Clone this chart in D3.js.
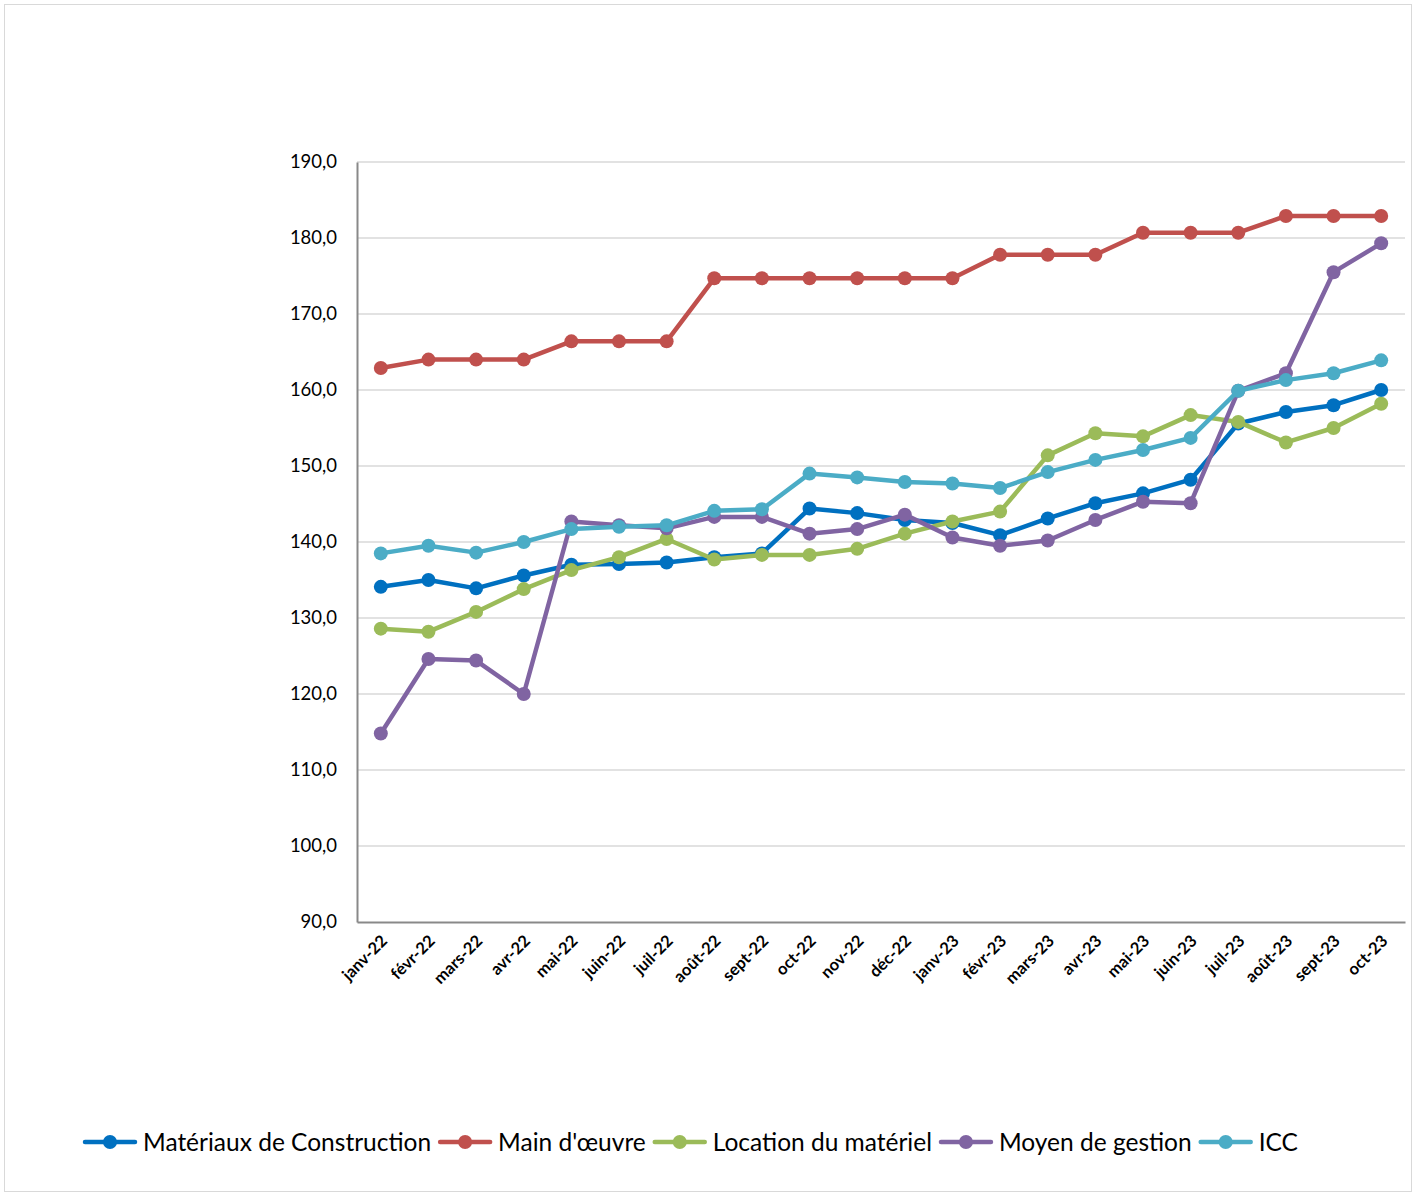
<!DOCTYPE html>
<html>
<head>
<meta charset="utf-8">
<script src="https://cdn.jsdelivr.net/npm/d3@7"></script>
<style>
  body { margin: 0; background: #fff; }
  text { font-family: Lato, "Liberation Sans", sans-serif; }
</style>
</head>
<body>
<div id="chart-area"></div>
<script>
// data
var months = ["janv-22","févr-22","mars-22","avr-22","mai-22","juin-22","juil-22","août-22","sept-22","oct-22","nov-22","déc-22",
              "janv-23","févr-23","mars-23","avr-23","mai-23","juin-23","juil-23","août-23","sept-23","oct-23"];
var materiaux = [134.1,135.0,133.9,135.6,137.0,137.1,137.3,138.0,138.5,144.4,143.8,142.9,142.5,140.9,143.1,145.1,146.4,148.2,155.6,157.1,158.0,160.0];
var mainOeuvre = [162.9,164.0,164.0,164.0,166.4,166.4,166.4,174.7,174.7,174.7,174.7,174.7,174.7,177.8,177.8,177.8,180.7,180.7,180.7,182.9,182.9,182.9];
var location_ = [128.6,128.2,130.8,133.8,136.3,138.0,140.4,137.7,138.3,138.3,139.1,141.1,142.7,144.0,151.4,154.3,153.9,156.7,155.8,153.1,155.0,158.2];
var moyen = [114.8,124.6,124.4,120.0,142.7,142.2,141.8,143.3,143.3,141.1,141.7,143.6,140.6,139.5,140.2,142.9,145.3,145.1,159.9,162.2,175.5,179.3];
var icc = [138.5,139.5,138.6,140.0,141.7,142.0,142.2,144.1,144.3,149.0,148.5,147.9,147.7,147.1,149.2,150.8,152.1,153.7,159.9,161.3,162.2,163.9];
var yTicks = [90,100,110,120,130,140,150,160,170,180,190];

var series = [
  {name: "Matériaux de Construction", values: materiaux, color: "#0070C0"},
  {name: "Main d'œuvre", values: mainOeuvre, color: "#C0504D"},
  {name: "Location du matériel", values: location_, color: "#9BBB59"},
  {name: "Moyen de gestion", values: moyen, color: "#8064A2"},
  {name: "ICC", values: icc, color: "#4BACC6"}
];

var W = 1413, H = 1193;
var margin = {top: 162, left: 357, right: 8, bottom: 271};
var width = W - margin.left - margin.right;
var height = H - margin.top - margin.bottom;

var svg = d3.select("#chart-area").append("svg")
    .attr("width", W)
    .attr("height", H);

// outer frame
svg.append("rect")
    .attr("x", 4.5).attr("y", 4.5)
    .attr("width", W - 6).attr("height", H - 6)
    .attr("fill", "none")
    .attr("stroke", "#d9d9d9");

var g = svg.append("g")
    .attr("transform", "translate(" + margin.left + ", " + margin.top + ")");

var x = d3.scalePoint().domain(months).range([0, width]).padding(0.5);
var y = d3.scaleLinear().domain([90, 190]).range([height, 0]);

// gridlines
g.selectAll(".grid").data(yTicks.slice(1)).enter().append("line")
    .attr("class", "grid")
    .attr("x1", 0).attr("x2", width)
    .attr("y1", (d) => y(d)).attr("y2", (d) => y(d))
    .attr("stroke", "#d9d9d9")
    .attr("stroke-width", 1.5);

// y axis
var yAxisCall = d3.axisLeft(y).tickValues(yTicks).tickSize(0).tickPadding(20)
    .tickFormat((d) => d3.format(".1f")(d).replace(".", ","));
var yAxisGroup = g.append("g").call(yAxisCall);
yAxisGroup.select(".domain").attr("stroke", "#898989").attr("stroke-width", 2);
yAxisGroup.selectAll("text")
    .style("font-size", "18.5px")
    .style("fill", "#000");

// x axis
var xAxisCall = d3.axisBottom(x).tickSize(0).tickPadding(0);
var xAxisGroup = g.append("g").attr("transform", "translate(0, " + height + ")").call(xAxisCall);
xAxisGroup.select(".domain").attr("stroke", "#898989").attr("stroke-width", 2);
xAxisGroup.selectAll("text")
    .style("font-size", "16.5px")
    .style("font-weight", "bold")
    .style("fill", "#000")
    .attr("text-anchor", "end")
    .attr("dy", "0")
    .attr("transform", "translate(7, 20) rotate(-45)");

// lines
var line = d3.line()
    .x((d, i) => x(months[i]))
    .y((d) => y(d));

series.forEach((s) => {
    g.append("path")
        .datum(s.values)
        .attr("d", line)
        .attr("fill", "none")
        .attr("stroke", s.color)
        .attr("stroke-width", 4.5)
        .attr("stroke-linejoin", "round");
    g.selectAll(null).data(s.values).enter().append("circle")
        .attr("cx", (d, i) => x(months[i]))
        .attr("cy", (d) => y(d))
        .attr("r", 7)
        .attr("fill", s.color);
});

// legend
var legend = svg.append("g").attr("transform", "translate(85, 1142)");
var lx = 0;
series.forEach((s) => {
    var item = legend.append("g").attr("transform", "translate(" + lx + ",0)");
    item.append("line")
        .attr("x1", 0).attr("x2", 50)
        .attr("stroke", s.color)
        .attr("stroke-width", 4.5)
        .attr("stroke-linecap", "round");
    item.append("circle").attr("cx", 25).attr("r", 7).attr("fill", s.color);
    var t = item.append("text")
        .attr("x", 58)
        .attr("dy", "0.35em")
        .style("font-size", "24.5px")
        .style("fill", "#000")
        .text(s.name);
    lx += 58 + t.node().getComputedTextLength() + 9;
});
</script>
</body>
</html>
